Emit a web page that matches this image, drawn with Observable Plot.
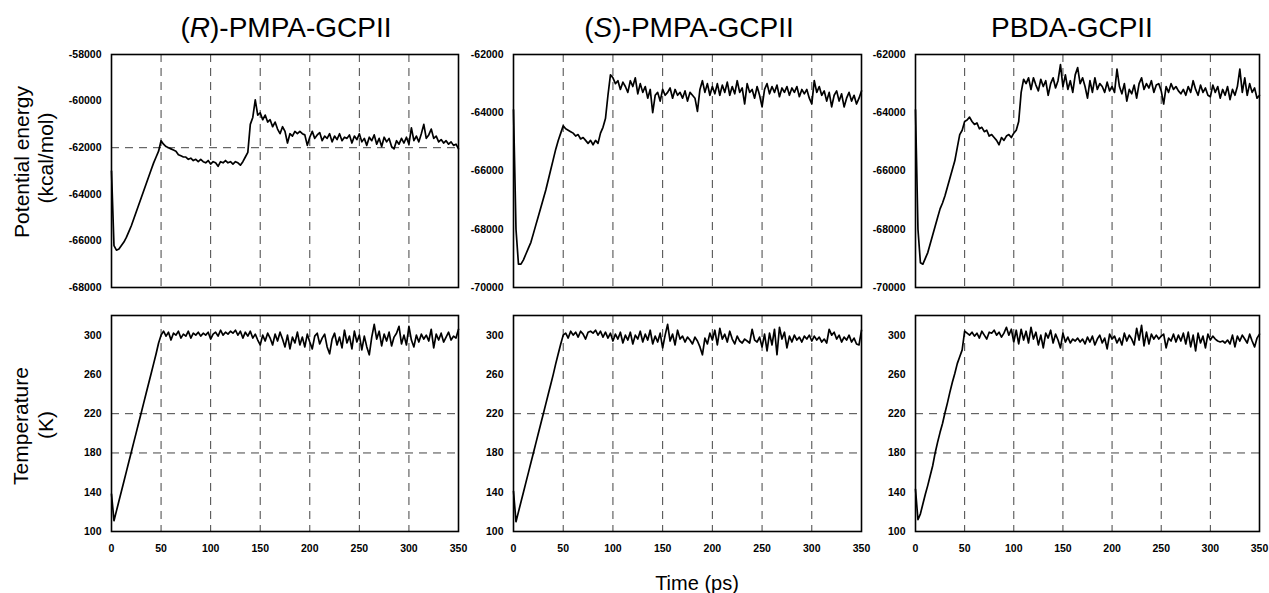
<!DOCTYPE html>
<html><head><meta charset="utf-8">
<script src="https://cdn.jsdelivr.net/npm/d3@7"></script>
<script src="https://cdn.jsdelivr.net/npm/@observablehq/plot@0.6"></script>
<style>
body{margin:0;background:#fff;}
#root{position:relative;width:1269px;height:593px;overflow:hidden;background:#fff;font-family:"Liberation Sans",Arial,sans-serif;}
.panel{position:absolute;}
.panel svg{overflow:visible;background:transparent;}
.panel svg text{font-weight:bold;font-size:10.5px;fill:#000;}
#labels{position:absolute;left:0;top:0;}
</style></head><body><div id="root"></div>
<script>
// ---- data: one sample every 2.5 ps, from 0 to 350 ps (rows = 20 ps) ----
const timeStep = 2.5;
const timeDomain = [0, 350];
const timeTicks = [0, 50, 100, 150, 200, 250, 300, 350];
const timeGrid = [50, 100, 150, 200, 250, 300];

const panelTitles = ["R", "S", "PBDA"];

const energyR = [
 -63000,-66200,-66400,-66350,-66200,-66050,-65850,-65600,
 -65350,-65050,-64750,-64450,-64150,-63850,-63550,-63250,
 -62950,-62650,-62400,-62150,-61700,-61850,-61950,-62000,
 -62050,-62100,-62150,-62300,-62350,-62400,-62400,-62500,
 -62450,-62550,-62500,-62600,-62500,-62600,-62650,-62550,
 -62700,-62600,-62650,-62800,-62600,-62650,-62550,-62650,
 -62600,-62700,-62600,-62650,-62750,-62600,-62400,-62200,
 -61000,-60700,-59950,-60600,-60500,-60800,-60600,-60900,
 -60800,-61100,-60900,-61200,-61400,-61100,-61300,-61800,
 -61400,-61500,-61300,-61400,-61300,-61400,-61450,-61900,
 -61550,-61300,-61600,-61450,-61350,-61700,-61500,-61600,
 -61400,-61750,-61500,-61650,-61400,-61700,-61550,-61600,
 -61450,-61800,-61500,-61650,-61400,-61750,-61600,-61900,
 -61550,-61700,-61450,-61850,-61600,-61950,-61550,-61750,
 -61600,-61950,-62050,-61700,-61850,-61600,-61800,-61550,
 -61850,-61150,-61700,-61500,-61750,-61400,-61000,-61600,
 -61450,-61200,-61600,-61500,-61750,-61650,-61800,-61700,
 -61850,-61750,-61900,-61850,-62050
];
const energyS = [
 -63900,-68000,-69200,-69200,-69050,-68850,-68650,-68450,
 -68150,-67850,-67550,-67250,-66950,-66650,-66300,-65950,
 -65600,-65250,-64950,-64700,-64450,-64550,-64600,-64650,
 -64700,-64800,-64750,-64900,-64850,-64950,-65050,-64950,
 -65100,-64950,-65050,-64700,-64500,-64200,-63400,-62700,
 -62800,-63000,-62900,-63200,-62950,-63100,-63300,-62900,
 -63100,-62800,-63350,-63000,-63300,-63100,-63500,-63200,
 -64000,-63400,-63300,-63600,-63200,-63400,-63300,-63150,
 -63500,-63200,-63400,-63300,-63500,-63250,-63600,-63300,
 -63400,-63500,-63950,-63200,-62900,-63300,-63000,-63400,
 -63100,-63350,-63000,-63400,-63050,-63300,-62950,-63400,
 -63100,-63350,-62900,-63300,-63150,-63700,-63000,-63300,
 -63200,-63500,-63100,-63400,-63800,-63200,-63000,-63350,
 -63100,-63300,-63050,-63450,-63150,-63300,-63100,-63400,
 -63150,-63300,-63100,-63450,-63200,-63350,-63200,-63500,
 -63700,-62900,-63300,-63100,-63400,-63250,-63600,-63300,
 -63800,-63400,-63250,-63600,-63350,-63800,-63500,-63300,
 -63600,-63400,-63700,-63500,-63250
];
const energyPBDA = [
 -63900,-68000,-69150,-69200,-69000,-68800,-68500,-68200,
 -67900,-67600,-67300,-67100,-66850,-66550,-66250,-65950,
 -65650,-65200,-64750,-64600,-64300,-64250,-64150,-64300,
 -64400,-64350,-64550,-64500,-64650,-64600,-64800,-64750,
 -64850,-64950,-65100,-64850,-64950,-64800,-64750,-64850,
 -64700,-64600,-64300,-63300,-62850,-63000,-62800,-63200,
 -62800,-63050,-63250,-62850,-63100,-62900,-63400,-63000,
 -62800,-63150,-62900,-62350,-63100,-62700,-63200,-62900,
 -63300,-62700,-62450,-63000,-62800,-63100,-63500,-62900,
 -63300,-62800,-63200,-63000,-63100,-63300,-62950,-63250,
 -63100,-63300,-62500,-63100,-63350,-63000,-63600,-63200,
 -63350,-63050,-63500,-63000,-62800,-63200,-63000,-63150,
 -62900,-63300,-63050,-63000,-63250,-63700,-63100,-63300,
 -63000,-63200,-63100,-63250,-63350,-63200,-63400,-63100,
 -63300,-62900,-63200,-63400,-63050,-63300,-63150,-63400,
 -63450,-63050,-63300,-63100,-63500,-63200,-63400,-63100,
 -63550,-63200,-63400,-63100,-62500,-63300,-62800,-63400,
 -63000,-63300,-63150,-63500,-63400
];
const tempR = [
 138,111,121,131,141,151,161,171,
 181,191,201,211,221,231,241,251,
 261,271,281,292,300,304,299,303,
 295,302,300,304,297,301,299,304,
 297,302,300,303,299,302,300,303,
 296,301,303,299,305,300,303,301,
 304,302,305,300,304,297,303,299,
 304,297,301,295,290,300,294,302,
 297,290,301,294,303,296,288,300,
 286,298,292,303,290,298,288,301,
 293,286,299,302,291,297,301,288,
 281,296,302,290,298,287,305,292,
 299,286,304,293,300,285,299,288,
 280,298,311,296,304,289,301,294,
 303,289,298,302,309,291,300,290,
 309,295,288,300,293,301,296,300,
 294,306,287,301,295,302,293,298,
 303,295,299,297,306
];
const tempS = [
 141,110,120,130,140,150,160,170,
 180,190,200,210,220,230,240,250,
 260,271,281,291,300,302,297,304,
 300,303,298,304,301,296,303,304,
 302,305,300,304,298,303,297,302,
 294,301,296,303,292,300,295,303,
 291,300,296,304,293,301,295,305,
 291,299,293,302,287,300,311,294,
 301,290,305,296,299,293,298,295,
 291,298,294,288,280,297,291,302,
 295,305,290,307,296,301,293,304,
 296,291,299,294,292,296,294,292,
 306,295,293,298,288,301,284,302,
 290,306,280,308,296,303,287,299,
 293,300,295,298,293,299,296,300,
 294,299,295,298,293,296,292,306,
 300,303,296,300,293,298,295,300,
 293,297,291,290,305
];
const tempPBDA = [
 143,112,118,128,138,147,157,167,
 180,191,201,210,221,231,242,252,
 261,271,278,285,304,302,300,303,
 299,302,297,304,300,296,303,302,
 305,300,303,298,302,308,300,306,
 293,305,291,306,295,304,292,308,
 296,303,290,300,287,302,297,305,
 292,301,295,287,302,293,298,292,
 296,294,297,293,296,291,298,293,
 299,290,296,300,292,297,286,301,
 296,299,292,297,290,302,294,300,
 296,290,307,295,310,289,303,291,
 301,296,300,296,299,301,287,297,
 294,301,293,300,294,302,291,303,
 288,300,284,302,292,299,287,301,
 295,299,296,294,293,294,292,295,
 291,300,288,299,294,300,296,292,
 301,294,288,297,301
];

const energyTicksR = [-68000,-66000,-64000,-62000,-60000,-58000];
const energyTicksSP = [-70000,-68000,-66000,-64000,-62000];
const tempTicks = [100,140,180,220,260,300];
const energyGridR = [-62000];
const tempGrid = [180, 220];

// ---- layout ----
const root = document.getElementById("root");
const FONT = '"Liberation Sans", Arial, sans-serif';
const ML = 60, MR = 12;
const colLeft = [111, 512.5, 914.5];
const colWidth = [347, 348, 344];

function panel(values, cfg) {
  const data = values.map((v, i) => ({time: i * timeStep, value: v}));
  const mt = 8, mb = cfg.showX ? 30 : 8;
  const svg = Plot.plot({
    width: ML + cfg.frameW + MR,
    height: mt + cfg.frameH + mb,
    marginLeft: ML, marginRight: MR, marginTop: mt, marginBottom: mb,
    style: {background: "transparent", fontFamily: FONT, fontSize: "10.5px", fontWeight: "bold", color: "#000", overflow: "visible"},
    x: {domain: timeDomain, ticks: timeTicks, tickFormat: d => String(d), tickSize: 0, tickPadding: 13, label: null, axis: cfg.showX ? "bottom" : null},
    y: {domain: cfg.yDomain, ticks: cfg.yTicks, tickFormat: d => String(d), tickSize: 0, tickPadding: 10, label: null},
    marks: [
      Plot.ruleX(timeGrid, {stroke: "#444", strokeWidth: 1, strokeDasharray: "8,6"}),
      Plot.ruleY(cfg.hGrid, {stroke: "#444", strokeWidth: 1, strokeDasharray: "8,6"}),
      Plot.line(data, {x: "time", y: "value", stroke: "#000", strokeWidth: 1.7}),
      Plot.frame({stroke: "#000", strokeWidth: 1.6})
    ]
  });
  const div = document.createElement("div");
  div.className = "panel";
  div.style.left = (cfg.left - ML) + "px";
  div.style.top = (cfg.top - mt) + "px";
  div.style.width = (ML + cfg.frameW + MR) + "px";
  div.appendChild(svg);
  root.appendChild(div);
}

const energies = [energyR, energyS, energyPBDA];
const temps = [tempR, tempS, tempPBDA];
const eDomains = [[-68000, -58000], [-70000, -62000], [-70000, -62000]];
const eTicks = [energyTicksR, energyTicksSP, energyTicksSP];
const eGrids = [energyGridR, [], []];

for (let c = 0; c < 3; c++) {
  panel(energies[c], {left: colLeft[c], frameW: colWidth[c], top: 54, frameH: 233, yDomain: eDomains[c], yTicks: eTicks[c], hGrid: eGrids[c], showX: false});
  panel(temps[c], {left: colLeft[c], frameW: colWidth[c], top: 315, frameH: 216, yDomain: [100, 320], yTicks: tempTicks, hGrid: tempGrid, showX: true});
}

// ---- titles and axis labels ----
const NS = "http://www.w3.org/2000/svg";
const lab = document.createElementNS(NS, "svg");
lab.setAttribute("id", "labels");
lab.setAttribute("width", 1269);
lab.setAttribute("height", 593);
lab.style.fontFamily = FONT;
lab.innerHTML = `
<text x="286" y="37" font-size="28" text-anchor="middle">(<tspan font-style="italic">${panelTitles[0]}</tspan>)-PMPA-GCPII</text>
<text x="689" y="37" font-size="28" text-anchor="middle">(<tspan font-style="italic">${panelTitles[1]}</tspan>)-PMPA-GCPII</text>
<text x="1072" y="37" font-size="28" text-anchor="middle">${panelTitles[2]}-GCPII</text>
<text transform="translate(28.5,162) rotate(-90)" font-size="21" text-anchor="middle">Potential energy</text>
<text transform="translate(53,158) rotate(-90)" font-size="21" text-anchor="middle">(kcal/mol)</text>
<text transform="translate(28,426) rotate(-90)" font-size="21" text-anchor="middle">Temperature</text>
<text transform="translate(53,425) rotate(-90)" font-size="21" text-anchor="middle">(K)</text>
<text x="697" y="590" font-size="20" text-anchor="middle">Time (ps)</text>`;
root.appendChild(lab);
</script></body></html>
